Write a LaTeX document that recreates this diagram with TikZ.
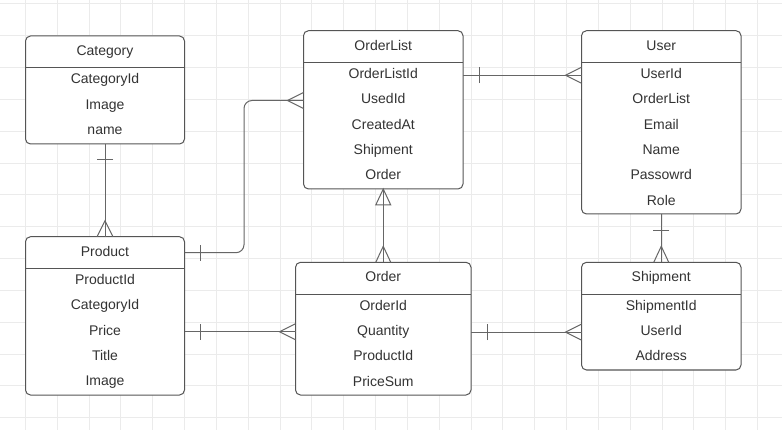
\documentclass[tikz,border=0pt]{standalone}
\usepackage{fontspec}
\setmainfont{Liberation Sans}
\usetikzlibrary{calc}
\definecolor{boxline}{HTML}{555555}
\definecolor{connline}{HTML}{666666}
\definecolor{txt}{HTML}{333333}
\definecolor{gridc}{HTML}{EBEBEB}
\tikzset{
  entbox/.style={draw=boxline, line width=1pt, rounded corners=5pt, fill=white,
                 anchor=north west, inner sep=0pt, outer sep=0pt},
  lbl/.style={font=\fontsize{14}{16}\selectfont, text=txt, text height=10pt,
              text depth=3pt, inner sep=0pt, anchor=center},
  divline/.style={draw=boxline, line width=1pt},
  conn/.style={draw=connline, line width=1pt},
  gridline/.style={draw=gridc, line width=1pt}
}
% #1 name, #2 x, #3 y, #4 width, #5 height, #6 title, #7 rows
\newcommand\erentity[7]{%
  \node[entbox, minimum width=#4pt, minimum height=#5pt] (#1) at (#2,#3) {};
  \coordinate (#1-d) at ($(#1.north west)+(0,32)$);
  \draw[divline] (#1-d) -- (#1-d -| #1.east);
  \node[lbl] (#1-t) at ($(#1.north)+(0,16)$) {#6};
  \foreach \r [count=\k from 0] in {#7} {
    \node[lbl] (#1-\k) at ($(#1.north)+(0,{44.5+25.3*\k})$) {\r};
  }
}
% crow's foot: #1 point on box edge, #2 apex offset, #3 half spread
\newcommand\footat[3]{\draw[conn] ($(#1)+(#3)$) -- ($(#1)+(#2)$) -- ($(#1)-(#3)$);}
% bar: #1 point, #2 offset, #3 half length
\newcommand\barat[3]{\draw[conn] ($(#1)+(#2)+(#3)$) -- ($(#1)+(#2)-(#3)$);}
\begin{document}
\begin{tikzpicture}[x=1pt,y=-1pt]
\useasboundingbox (0,0) rectangle (782,430);
\fill[white] (0,0) rectangle (782,430);
\foreach \i in {0,...,23} \draw[gridline] ({25.5+31.83*\i},0) -- ({25.5+31.83*\i},430);
\foreach \j in {0,...,13} \draw[gridline] (0,{4+31.83*\j}) -- (782,{4+31.83*\j});

\erentity{category}{25.5}{36}{159}{108}{Category}{CategoryId,Image,name}
\erentity{product}{25.5}{236.7}{159}{158.3}{Product}{ProductId,CategoryId,Price,Title,Image}
\erentity{orderlist}{303.5}{30.7}{159.5}{158.3}{OrderList}{OrderListId,UsedId,CreatedAt,Shipment,Order}
\erentity{user}{581.5}{30.7}{159.5}{183.3}{User}{UserId,OrderList,Email,Name,Passowrd,Role}
\erentity{order}{295.5}{262.3}{175.5}{132.7}{Order}{OrderId,Quantity,ProductId,PriceSum}
\erentity{shipment}{581.5}{262.3}{159.5}{107.7}{Shipment}{ShipmentId,UserId,Address}

% Category -- Product
\draw[conn] (category.south) -- (product.north);
\barat{category.south}{0,16}{8,0}
\footat{product.north}{0,-16}{8,0}

% Product -- OrderList
\coordinate (pa) at (product.east |- product-t);
\coordinate (pb) at (orderlist.west |- orderlist-1);
\coordinate (pbend) at (244,176);
\draw[conn, rounded corners=8pt] (pa) -| (pbend) |- (pb);
\barat{pa}{16,0}{0,8}
\footat{pb}{-16,0}{0,8}

% Product -- Order
\coordinate (qa) at (product.east |- product-2);
\coordinate (qb) at (order.west |- product-2);
\draw[conn] (qa) -- (qb);
\barat{qa}{16,0}{0,8}
\footat{qb}{-16,0}{0,8}

% Order -- OrderList
\draw[conn] (order.north) -- (orderlist.south);
\draw[conn] ($(orderlist.south)+(-7.5,16)$) -- (orderlist.south) -- ($(orderlist.south)+(7.5,16)$) -- cycle;
\footat{order.north}{0,-16}{7.5,0}

% OrderList -- User
\coordinate (ra) at (orderlist.east |- orderlist-0);
\coordinate (rb) at (user.west |- orderlist-0);
\draw[conn] (ra) -- (rb);
\barat{ra}{16,0}{0,8}
\footat{rb}{-16,0}{0,8}

% Order -- Shipment
\coordinate (sa) at (order.east |- order-1);
\coordinate (sb) at (shipment.west |- order-1);
\draw[conn] (sa) -- (sb);
\barat{sa}{16,0}{0,8}
\footat{sb}{-16,0}{0,8}

% User -- Shipment
\draw[conn] (user.south) -- (shipment.north);
\barat{user.south}{0,17}{8,0}
\footat{shipment.north}{0,-16}{7.5,0}
\end{tikzpicture}
\end{document}
